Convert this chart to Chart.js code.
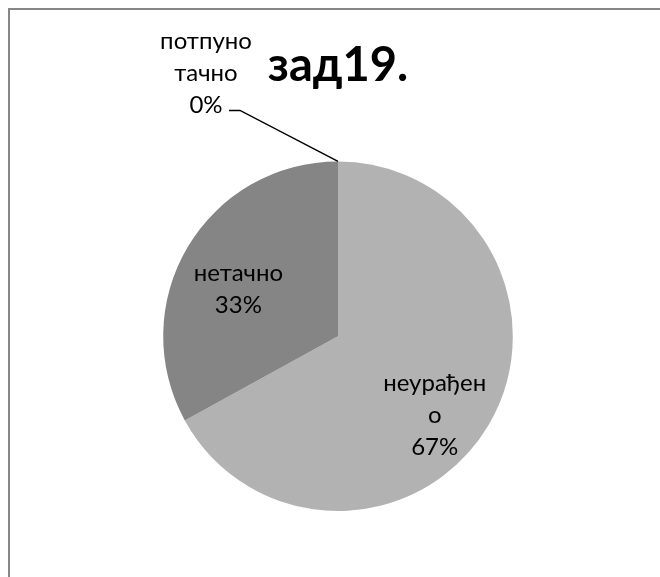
<!DOCTYPE html>
<html>
<head>
<meta charset="utf-8">
<script src="https://cdn.jsdelivr.net/npm/chart.js@4.4.0/dist/chart.umd.min.js"></script>
<style>
  html, body { margin: 0; padding: 0; background: #fff; overflow: hidden; }
  #wrap { position: relative; width: 660px; height: 577px; overflow: hidden; }
  #frame {
    position: absolute; left: 8px; top: 8px; width: 800px; height: 800px;
    border-left: 2px solid #878787; border-top: 2px solid #878787;
  }
  #pieChart { position: absolute; left: 0; top: 0; }
</style>
</head>
<body>
<div id="wrap">
  <div id="frame"></div>
  <canvas id="pieChart" width="660" height="577"></canvas>
</div>
<script>
const categories = ['неурађено', 'нетачно', 'потпуно тачно']
const values = [67, 33, 0]
// how the category names are broken over lines in the picture
const labelLines = [['неурађен', 'о'], ['нетачно'], ['потпуно', 'тачно']]
const sliceColors = ['#b2b2b2', '#858585', '#d0d0d0']

const labelFont = '24px Lato'

// draws the data labels; inner ones sit inside the slice, the 0% one gets a leader line
const pieLabels = {
    id: 'pieLabels',
    afterDatasetsDraw(chart, args, opts) {
        const ctx = chart.ctx
        const meta = chart.getDatasetMeta(0)
        const total = values.reduce((a, b) => a + b, 0)
        ctx.save()
        ctx.font = labelFont
        ctx.fillStyle = '#000'
        ctx.textAlign = 'center'
        ctx.textBaseline = 'middle'
        meta.data.forEach((arc, i) => {
            const p = arc.getProps(['x', 'y', 'startAngle', 'endAngle', 'outerRadius'], true)
            const pct = Math.round(values[i] / total * 100) + '%'
            const lines = labelLines[i].concat([pct])
            const place = opts.place[i]
            const mid = (p.startAngle + p.endAngle) / 2
            if (place.outside) {
                // point on the rim, then elbow, then end of leader
                const rx = p.x + Math.cos(mid) * p.outerRadius
                const ry = p.y + Math.sin(mid) * p.outerRadius
                ctx.strokeStyle = '#000'
                ctx.lineWidth = 1.5
                ctx.beginPath()
                ctx.moveTo(rx, ry)
                ctx.lineTo(rx + place.elbow[0], ry + place.elbow[1])
                ctx.lineTo(rx + place.end[0], ry + place.end[1])
                ctx.stroke()
                const tx = rx + place.text[0]
                const lastY = ry + place.text[1]
                lines.forEach((t, k) => {
                    ctx.fillText(t, tx, lastY - (lines.length - 1 - k) * opts.lineHeight)
                })
            } else {
                const a = mid + place.shift * Math.PI / 180
                const r = p.outerRadius * place.f
                const cx = p.x + Math.cos(a) * r
                const cy = p.y + Math.sin(a) * r
                const top = cy - (lines.length - 1) * opts.lineHeight / 2
                lines.forEach((t, k) => ctx.fillText(t, cx, top + k * opts.lineHeight))
            }
        })
        ctx.restore()
    }
}

const renderPie = () => {
    const data = {
        labels: categories,
        datasets: [{
            data: values,
            backgroundColor: sliceColors,
            borderWidth: 0
        }]
    }

    const options = {
        responsive: false,
        animation: false,
        events: [],
        layout: { padding: { left: 163, right: 147, top: 0, bottom: 66 } },
        plugins: {
            legend: { display: false },
            tooltip: { enabled: false },
            title: {
                display: true,
                text: 'зад19.',
                color: '#000',
                font: { family: 'Lato', size: 47, weight: 'bold', lineHeight: 1.2 },
                padding: { top: 38, bottom: 67 }
            },
            pieLabels: {
                lineHeight: 32,
                place: [
                    { shift: 8.6, f: 0.714 },
                    { shift: -5.4, f: 0.63 },
                    { outside: true, elbow: [-98, -51], end: [-109, -51], text: [-132, -56] }
                ]
            }
        }
    }

    new Chart('pieChart', { type: 'pie', data, options, plugins: [pieLabels] })
}

renderPie()
</script>
</body>
</html>
